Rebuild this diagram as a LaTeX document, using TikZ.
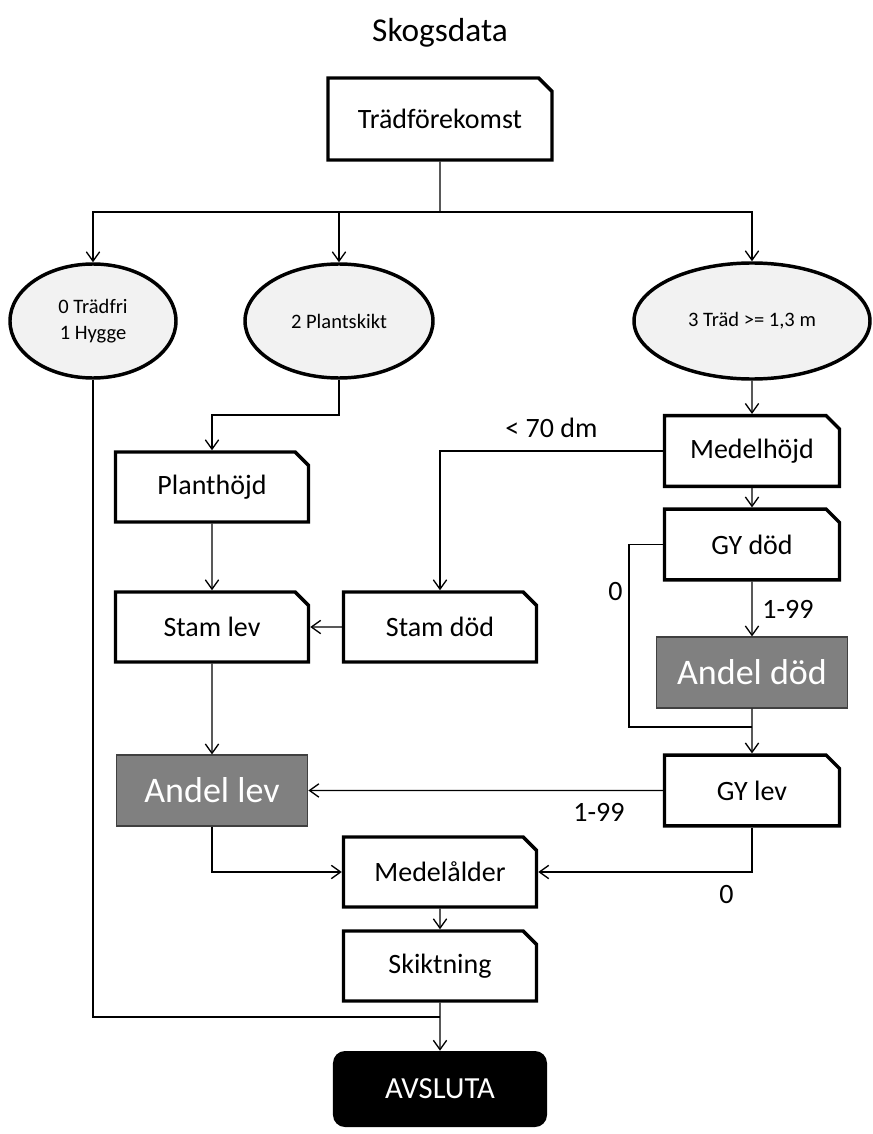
\documentclass[tikz,border=0pt]{standalone}
\usepackage{fontspec}
\setmainfont{Carlito}
\usetikzlibrary{shapes.geometric, shapes.misc, arrows.meta, positioning}
\tikzstyle{arrow} = [line width=1pt,-{Straight Barb[length=7pt,width=10pt]}]
\tikzstyle{line} = [line width=1pt]
\tikzstyle{card} = [chamfered rectangle, chamfered rectangle corners=north east,
  chamfered rectangle xsep=5pt, chamfered rectangle ysep=5pt, draw, line width=2.6pt,
  fill=white, minimum width=144.75pt, minimum height=52.5pt, inner sep=0pt,
  font=\fontsize{21}{25}\selectfont]
\tikzstyle{oval} = [ellipse, draw, line width=2.6pt, fill=black!5, inner sep=0pt,
  minimum height=85.5pt, align=center, font=\fontsize{15.4}{19.5}\selectfont]
\tikzstyle{share} = [rectangle, draw=black!75, line width=1.1pt, fill=black!50, text=white,
  minimum width=143.5pt, minimum height=53pt, font=\fontsize{27}{32}\selectfont]
\tikzstyle{finish} = [rectangle, rounded corners=9pt, fill=black, text=white,
  minimum width=160.5pt, minimum height=57pt, font=\fontsize{23}{28}\selectfont]
\tikzstyle{tag} = [on grid=false, font=\fontsize{21}{25}\selectfont]

\begin{document}
\begin{tikzpicture}[on grid]
    \useasboundingbox (-330pt,89.25pt) rectangle (324pt,-761.25pt);
    \node[card, minimum width=168pt, minimum height=61.5pt] (trad) {Trädförekomst};
    \node[above=64.5pt of trad, font=\fontsize{25}{30}\selectfont] (title) {Skogsdata};
    \node[oval, minimum width=141pt][below left=151.5pt and 75.75pt of trad] (plantskikt) {2 Plantskikt};
    \node[oval, minimum width=124.5pt][left=184.5pt of plantskikt] (tradfri) {0 Trädfri\\1 Hygge};
    \node[oval, minimum width=177pt, minimum height=87pt][right=309.75pt of plantskikt] (tradmeter) {3 Träd >= 1,3 m};
    \node[card][below left=124.5pt and 95.25pt of plantskikt] (planthojd) {Planthöjd};
    \node[card][below=105pt of planthojd] (stamlev) {Stam lev};
    \node[card][right=171pt of stamlev] (stamdod) {Stam död};
    \node[share][below=122.6pt of stamlev] (andellev) {Andel lev};
    \node[card, minimum width=131.25pt, minimum height=53pt][below=97.5pt of tradmeter] (medelhojd) {Medelhöjd};
    \node[card, minimum width=131.25pt, minimum height=53pt][below=70.1pt of medelhojd] (gydod) {GY död};
    \node[share][below=96pt of gydod] (andeldod) {Andel död};
    \node[card, minimum width=131.25pt, minimum height=53pt][below=88.5pt of andeldod] (gylev) {GY lev};
    \node[card][below=183.75pt of stamdod] (medelalder) {Medelålder};
    \node[card][below=70.5pt of medelalder] (skiktning) {Skiktning};
    \node[finish][below=92.25pt of skiktning] (avsluta) {AVSLUTA};
    % bend points
    \coordinate[below=69.75pt of trad] (fork);
    \coordinate[below=70.5pt of plantskikt] (bend);
    \coordinate[below left=40.9pt and 92.25pt of andeldod] (skip);
    \coordinate[below=38.25pt of skiktning] (merge);
    % connectors
    \draw[line] (trad) -- (fork);
    \draw[arrow] (fork) -| (tradfri);
    \draw[arrow] (fork) -| (tradmeter);
    \draw[arrow] (fork -| plantskikt) -- (plantskikt);
    \draw[arrow] (plantskikt) -- (bend) -| (planthojd);
    \draw[arrow] (tradmeter) -- (medelhojd);
    \draw[arrow] (medelhojd) -| node[tag, pos=0.25, above=6pt] {< 70 dm} (stamdod);
    \draw[arrow] (planthojd) -- (stamlev);
    \draw[arrow] (stamdod) -- (stamlev);
    \draw[arrow] (stamlev) -- (andellev);
    \draw[arrow] (medelhojd) -- (gydod);
    \draw[arrow] (gydod) -- node[tag, right=4pt] {1-99} (andeldod);
    \draw[line] (gydod) -| node[tag, pos=0.63, left=1pt] {0} (skip) -- (skip -| andeldod);
    \draw[arrow] (andeldod) -- (gylev);
    \draw[arrow] (gylev) -- node[tag, pos=0.18, below=6pt] {1-99} (andellev);
    \draw[arrow] (andellev) |- (medelalder);
    \draw[arrow] (gylev) |- node[tag, pos=0.56, below=6pt] {0} (medelalder);
    \draw[arrow] (medelalder) -- (skiktning);
    \draw[arrow] (skiktning) -- (avsluta);
    \draw[line] (tradfri) |- (merge);
\end{tikzpicture}
\end{document}
